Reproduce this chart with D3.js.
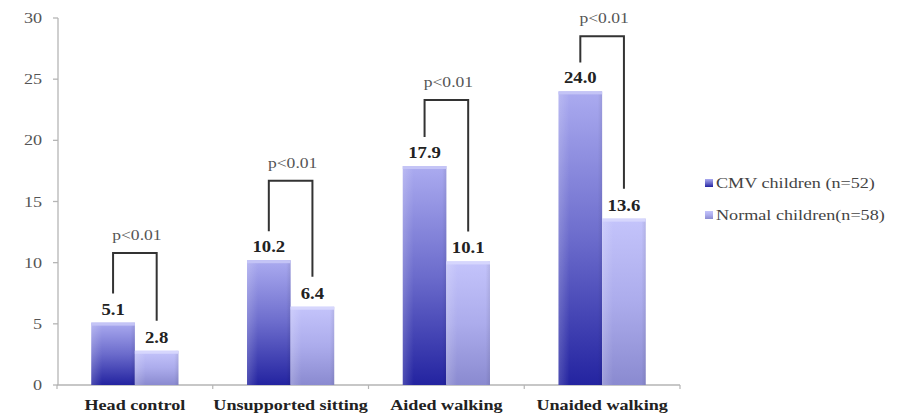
<!DOCTYPE html>
<html>
<head>
<meta charset="utf-8">
<script src="https://cdn.jsdelivr.net/npm/d3@7"></script>
<style>
  html, body { margin: 0; padding: 0; background: #fff; }
  svg { display: block; }
</style>
</head>
<body>
<svg id="chart" width="903" height="415"></svg>
<script>
// ---- data ----
const categories = ["Head control", "Unsupported sitting", "Aided walking", "Unaided walking"];
const seriesNames = ["CMV children (n=52)", "Normal children(n=58)"];
const cmvValues = [5.1, 10.2, 17.9, 24.0];
const normalValues = [2.8, 6.4, 10.1, 13.6];
const pLabels = ["p<0.01", "p<0.01", "p<0.01", "p<0.01"];
const bracketLevels = [10.8, 16.7, 23.3, 28.5];
const yTicks = [0, 5, 10, 15, 20, 25, 30];

// ---- layout ----
const svg = d3.select("#chart");
const W = 903, H = 415;
const xLeft = 57, xRight = 680, yTop = 18, yBottom = 385;
const SX = 1.17; // horizontal stretch of text in the reference
const serif = "'Liberation Serif', 'Times New Roman', serif";

const x = d3.scaleBand().domain(categories).range([xLeft, xRight]).padding(0);
const y = d3.scaleLinear().domain([0, 30]).range([yBottom, yTop]);
const bw = x.bandwidth();
const x1 = d3.scaleBand().domain(seriesNames).range([bw * 0.5 - bw * 0.28, bw * 0.5 + bw * 0.28]).padding(0);

// gradients
const defs = svg.append("defs");
function grad(id, top, mid, bottom) {
  const g = defs.append("linearGradient").attr("id", id).attr("x1", 0).attr("y1", 0).attr("x2", 0).attr("y2", 1);
  g.append("stop").attr("offset", "0%").attr("stop-color", top);
  g.append("stop").attr("offset", "50%").attr("stop-color", mid);
  g.append("stop").attr("offset", "100%").attr("stop-color", bottom);
}
grad("gCMV", "#ababf0", "#6c6ccc", "#2323a0");
grad("gNorm", "#c4c4fb", "#acacec", "#8a8ad0");
const hg = defs.append("linearGradient").attr("id", "gSide").attr("x1", 0).attr("y1", 0).attr("x2", 1).attr("y2", 0);
hg.append("stop").attr("offset", "0%").attr("stop-color", "#ffffff").attr("stop-opacity", 0.18);
hg.append("stop").attr("offset", "25%").attr("stop-color", "#ffffff").attr("stop-opacity", 0.0);
hg.append("stop").attr("offset", "90%").attr("stop-color", "#000000").attr("stop-opacity", 0.0);
hg.append("stop").attr("offset", "100%").attr("stop-color", "#000000").attr("stop-opacity", 0.08);

function stretchedText(sel, tx, ty) {
  return sel.attr("transform", `translate(${tx},${ty}) scale(${SX},1)`);
}

// ---- y axis ----
const yAxis = svg.append("g");
yAxis.append("line").attr("x1", xLeft + 1).attr("x2", xLeft + 1).attr("y1", y(30)).attr("y2", yBottom)
  .attr("stroke", "#b5b5b5").attr("stroke-width", 1.3);
yTicks.forEach(t => {
  yAxis.append("line").attr("x1", xLeft - 4).attr("x2", xLeft + 1).attr("y1", y(t)).attr("y2", y(t))
    .attr("stroke", "#b5b5b5").attr("stroke-width", 1.3);
  stretchedText(yAxis.append("text"), 42, y(t) + 5)
    .attr("text-anchor", "end").attr("font-family", serif).attr("font-size", 15.5)
    .attr("fill", "#555").text(t);
});

// ---- x axis ----
const xAxis = svg.append("g");
xAxis.append("line").attr("x1", xLeft).attr("x2", xRight).attr("y1", yBottom).attr("y2", yBottom)
  .attr("stroke", "#b5b5b5").attr("stroke-width", 1.3);
categories.concat([null]).forEach((c, i) => {
  const px = c ? x(c) : xRight;
  xAxis.append("line").attr("x1", px).attr("x2", px).attr("y1", yBottom).attr("y2", yBottom + 4)
    .attr("stroke", "#b5b5b5").attr("stroke-width", 1.2);
});
categories.forEach(c => {
  stretchedText(xAxis.append("text"), x(c) + bw / 2, 410)
    .attr("text-anchor", "middle").attr("font-family", serif).attr("font-size", 15.5)
    .attr("font-weight", "bold").attr("fill", "#222").text(c);
});

// ---- bars ----
const rows = categories.map((c, i) => ({ c, vals: [cmvValues[i], normalValues[i]] }));
const groups = svg.append("g").selectAll("g").data(rows).join("g")
  .attr("transform", d => `translate(${x(d.c)},0)`);
groups.each(function (d) {
  const g = d3.select(this);
  d.vals.forEach((v, k) => {
    const bx = x1(seriesNames[k]);
    const w = x1.bandwidth();
    g.append("rect").attr("x", bx).attr("y", y(v)).attr("width", w).attr("height", yBottom - y(v))
      .attr("fill", k === 0 ? "url(#gCMV)" : "url(#gNorm)");
    g.append("rect").attr("x", bx).attr("y", y(v)).attr("width", w).attr("height", yBottom - y(v))
      .attr("fill", "url(#gSide)");
    g.append("rect").attr("x", bx).attr("y", y(v)).attr("width", w).attr("height", 3)
      .attr("fill", k === 0 ? "#c4c4f6" : "#d6d6fd");
    stretchedText(g.append("text"), bx + w / 2, y(v) - 8)
      .attr("text-anchor", "middle").attr("font-family", serif).attr("font-size", 16)
      .attr("font-weight", "bold").attr("fill", "#222").text(v.toFixed(1));
  });
});

// ---- brackets ----
const br = svg.append("g");
categories.forEach((c, i) => {
  const xa = x(c) + x1(seriesNames[0]) + x1.bandwidth() / 2;
  const xb = x(c) + x1(seriesNames[1]) + x1.bandwidth() / 2;
  const yl = y(cmvValues[i]) - 29;
  const yr = y(normalValues[i]) - 30;
  const yt = y(bracketLevels[i]);
  br.append("path").attr("d", `M${xa},${yl} V${yt} H${xb} V${yr}`)
    .attr("fill", "none").attr("stroke", "#333").attr("stroke-width", 2);
  stretchedText(br.append("text"), (xa + xb) / 2 + 2, yt - 13)
    .attr("text-anchor", "middle").attr("font-family", serif).attr("font-size", 15)
    .attr("fill", "#555").text(pLabels[i]);
});

// ---- legend ----
const lg = svg.append("g");
seriesNames.forEach((s, k) => {
  const ly = 183 + k * 32;
  lg.append("rect").attr("x", 705).attr("y", ly - 4).attr("width", 8).attr("height", 8)
    .attr("fill", k === 0 ? "url(#gCMV)" : "url(#gNorm)");
  stretchedText(lg.append("text"), 716, ly + 5)
    .attr("font-family", serif).attr("font-size", 15.5).attr("fill", "#444").text(s);
});
</script>
</body>
</html>
